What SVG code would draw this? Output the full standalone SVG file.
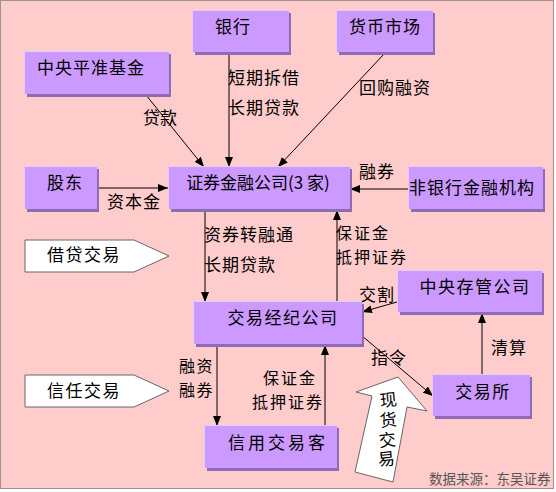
<svg xmlns="http://www.w3.org/2000/svg" width="556" height="492" viewBox="0 0 556 492">
<defs>
<marker id="ah" markerUnits="userSpaceOnUse" markerWidth="10" markerHeight="8" refX="10" refY="4" orient="auto">
<path d="M0,0 L10,4 L0,8 z" fill="#000"/>
</marker>
<style>
.sh{fill:#8E6BB4}
.bx{fill:#CC99FF}
.hl{fill:none;stroke:#E2CCFF;stroke-width:1}
.t{font-family:"Noto Sans CJK SC","Noto Sans",sans-serif;font-size:17px;fill:#000}
.s{font-size:16px;letter-spacing:2px}
.m{text-anchor:middle}
.c line{stroke:#000;stroke-width:1;marker-end:url(#ah)}
.pt{fill:#fff;stroke:#666;stroke-width:1}
</style>
</defs>
<rect x="0" y="0" width="556" height="492" fill="#fff"/>
<rect x="0.5" y="0.5" width="553" height="488" fill="#FFCCCC" stroke="#A09090" stroke-width="1"/>

<g id="connectors" class="c">
<line x1="146" y1="95" x2="204" y2="167"/>
<line x1="229" y1="53" x2="229" y2="167"/>
<line x1="385" y1="53" x2="278" y2="167"/>
<line x1="97" y1="188" x2="168" y2="188"/>
<line x1="408" y1="189" x2="350" y2="189"/>
<line x1="205" y1="210" x2="205" y2="302"/>
<line x1="337" y1="302" x2="337" y2="210"/>
<line x1="397" y1="302" x2="362" y2="312"/>
<line x1="361" y1="335" x2="433" y2="396"/>
<line x1="482" y1="375" x2="482" y2="313"/>
<line x1="217" y1="345" x2="217" y2="426"/>
<line x1="325" y1="426" x2="325" y2="345"/>
</g>

<g id="edge-labels" class="t">
<text x="143" y="124">贷款</text>
<text x="228" y="84" letter-spacing="1">短期拆借</text>
<text x="228" y="114" letter-spacing="1">长期贷款</text>
<text x="359" y="94" letter-spacing="1">回购融资</text>
<text x="107" y="208" letter-spacing="1">资本金</text>
<text x="359" y="178" letter-spacing="1">融券</text>
<text x="204" y="241" letter-spacing="1">资券转融通</text>
<text x="204" y="271" letter-spacing="1">长期贷款</text>
<text class="s" x="336" y="239">保证金</text>
<text class="s" x="336" y="263">抵押证券</text>
<text x="359" y="301" letter-spacing="1">交割</text>
<text x="371" y="364" letter-spacing="1">指令</text>
<text x="491" y="354" letter-spacing="1">清算</text>
<text class="s" x="179" y="372" style="letter-spacing:1.5px">融资</text>
<text class="s" x="179" y="396" style="letter-spacing:1.5px">融券</text>
<text class="s" x="263" y="384">保证金</text>
<text class="s" x="252" y="408">抵押证券</text>
</g>

<g id="n-bank"><rect class="sh" x="195" y="13" width="96" height="42"/><rect class="bx" x="192" y="10" width="97" height="42"/><path class="hl" d="M192.5,52 V10.5 H289"/><text class="t m" x="233" y="33" letter-spacing="1">银行</text></g>
<g id="n-money"><rect class="sh" x="339" y="13" width="96" height="42"/><rect class="bx" x="336" y="10" width="97" height="42"/><path class="hl" d="M336.5,52 V10.5 H433"/><text class="t m" x="385" y="33" letter-spacing="1">货币市场</text></g>
<g id="n-fund"><rect class="sh" x="27" y="54" width="144" height="43"/><rect class="bx" x="24" y="51" width="145" height="43"/><path class="hl" d="M24.5,94 V51.5 H169"/><text class="t m" x="91" y="74" letter-spacing="1">中央平准基金</text></g>
<g id="n-holder"><rect class="sh" x="27" y="169" width="72" height="43"/><rect class="bx" x="24" y="166" width="73" height="43"/><path class="hl" d="M24.5,209 V166.5 H97"/><text class="t m" x="65" y="189" letter-spacing="1">股东</text></g>
<g id="n-csf"><rect class="sh" x="171" y="169" width="181" height="43"/><rect class="bx" x="168" y="166" width="182" height="43"/><path class="hl" d="M168.5,209 V166.5 H350"/><text class="t m" x="258" y="189">证券金融公司(3 家)</text></g>
<g id="n-nonbank"><rect class="sh" x="411" y="169" width="134" height="43"/><rect class="bx" x="408" y="166" width="135" height="43"/><path class="hl" d="M408.5,209 V166.5 H543"/><text class="t m" x="472" y="194" letter-spacing="1">非银行金融机构</text></g>
<g id="n-broker"><rect class="sh" x="196" y="304" width="168" height="43"/><rect class="bx" x="193" y="301" width="169" height="43"/><path class="hl" d="M193.5,344 V301.5 H362"/><text class="t m" x="283" y="324" letter-spacing="1.5">交易经纪公司</text></g>
<g id="n-depo"><rect class="sh" x="400" y="273" width="144" height="42"/><rect class="bx" x="397" y="270" width="145" height="42"/><path class="hl" d="M397.5,312 V270.5 H542"/><text class="t m" x="475" y="293" letter-spacing="1.5">中央存管公司</text></g>
<g id="n-exch"><rect class="sh" x="435" y="377" width="97" height="42"/><rect class="bx" x="432" y="374" width="98" height="42"/><path class="hl" d="M432.5,416 V374.5 H530"/><text class="t m" x="483" y="398" letter-spacing="1.5">交易所</text></g>
<g id="n-client"><rect class="sh" x="207" y="428" width="132" height="43"/><rect class="bx" x="204" y="425" width="133" height="43"/><path class="hl" d="M204.5,468 V425.5 H337"/><text class="t m" x="278" y="449" letter-spacing="3">信用交易客</text></g>

<g id="p-loan"><polygon class="pt" points="25,240 134,240 169,256 134,272 25,272"/><text class="t m" x="84" y="261" letter-spacing="1.5">借贷交易</text></g>
<g id="p-trust"><polygon class="pt" points="25,375 134,375 169,391 134,407 25,407"/><text class="t m" x="84" y="397" letter-spacing="1.5">信任交易</text></g>

<g id="spot">
<polygon class="pt" points="398,377 427,411 407,407 393,482 355,472 372,396 356,392" stroke="#555"/>
<g class="t m">
<text transform="translate(389,406) rotate(-6)">现</text>
<text transform="translate(389,426) rotate(-6)">货</text>
<text transform="translate(388,446) rotate(-6)">交</text>
<text transform="translate(387,465) rotate(-6)">易</text>
</g>
</g>

<text x="429" y="484" style="font-family:'Noto Sans CJK SC',sans-serif;font-size:13.5px;fill:#555">数据来源：东吴证券</text>
</svg>
